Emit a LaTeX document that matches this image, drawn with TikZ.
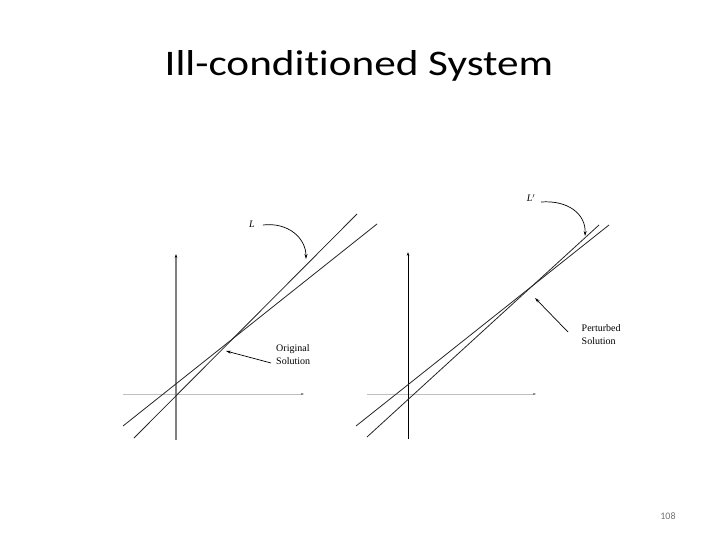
\documentclass[tikz,border=0pt]{standalone}
\usepackage{fontspec}
\setmainfont{Liberation Serif}
\newfontfamily\titlefont[Ligatures=NoCommon]{Carlito}
\usetikzlibrary{arrows.meta}
\begin{document}
\begin{tikzpicture}[x=1pt,y=-1pt,
  lineL/.style={draw=black!85,line width=0.8pt},
  haxis/.style={draw=black!25,line width=0.6pt,-{Stealth[length=3pt,width=2pt,black!60]}},
  vaxisg/.style={draw=black!50,line width=1.6pt,-{Stealth[length=4pt,width=2.6pt,black]}},
  vaxisb/.style={draw=black,line width=0.7pt,-{Stealth[length=4pt,width=2.6pt,black]}},
  pointer/.style={draw=black,line width=0.7pt,-{Stealth[length=5pt,width=3pt]}},
  small/.style={font=\fontsize{10}{13}\selectfont,align=left,inner sep=0pt,anchor=base west},
  lab/.style={font=\fontsize{10}{11}\selectfont\itshape,inner sep=0pt}]
\useasboundingbox (0,0) rectangle (720,540);
\fill[white] (0,0) rectangle (720,540);

\node[font=\titlefont\fontsize{36}{40}\selectfont,xscale=1.2,transform shape,anchor=base] (title) at (359,76) {Ill-conditioned System};
\node[font=\titlefont\fontsize{10}{12}\selectfont,text=black!55] (page) at (668,516) {108};

% left diagram
\coordinate (a1b) at (176,440);
\coordinate (a1t) at (176,254);
\coordinate (h1l) at (123,394);
\coordinate (h1r) at (304,394);
\draw[haxis] (h1l) -- (h1r);
\draw[vaxisg] (a1b) -- (a1t);
\coordinate (l1s) at (134,438);
\coordinate (l1e) at (357,214);
\coordinate (l2s) at (123,426);
\coordinate (l2e) at (377,224);
\draw[lineL] (l1s) -- (l1e);
\draw[lineL] (l2s) -- (l2e);
\node[lab] (L) at (252,224) {L};
\coordinate (Lt) at (306,259);
\draw[pointer] (263,225) coordinate (Ls) .. controls (288,222) and (306,238) .. (Lt);
\node[small] (orig) at (276,364.5) {Original\\Solution};
\coordinate (os) at (226,351);
\draw[pointer] (271,363) coordinate (oa) -- (os);

% right diagram
\coordinate (a2b) at (408,439);
\coordinate (a2t) at (408,252);
\coordinate (h2l) at (367,394);
\coordinate (h2r) at (536,394);
\draw[haxis] (h2l) -- (h2r);
\draw[vaxisb] (a2b) -- (a2t);
\coordinate (m1s) at (356,426);
\coordinate (m1e) at (609,225);
\coordinate (m2s) at (367,437);
\coordinate (m2e) at (599,225);
\draw[lineL] (m1s) -- (m1e);
\draw[lineL] (m2s) -- (m2e);
\node[lab] (Lp) at (531,198) {L$'$};
\coordinate (Lpt) at (585,236);
\draw[pointer] (541,202) coordinate (Lps) .. controls (568,200) and (586,214) .. (Lpt);
\node[small] (pert) at (581.5,344.5) {Perturbed\\Solution};
\coordinate (ps) at (535,298);
\draw[pointer] (568,332) coordinate (pa) -- (ps);
\end{tikzpicture}
\end{document}
